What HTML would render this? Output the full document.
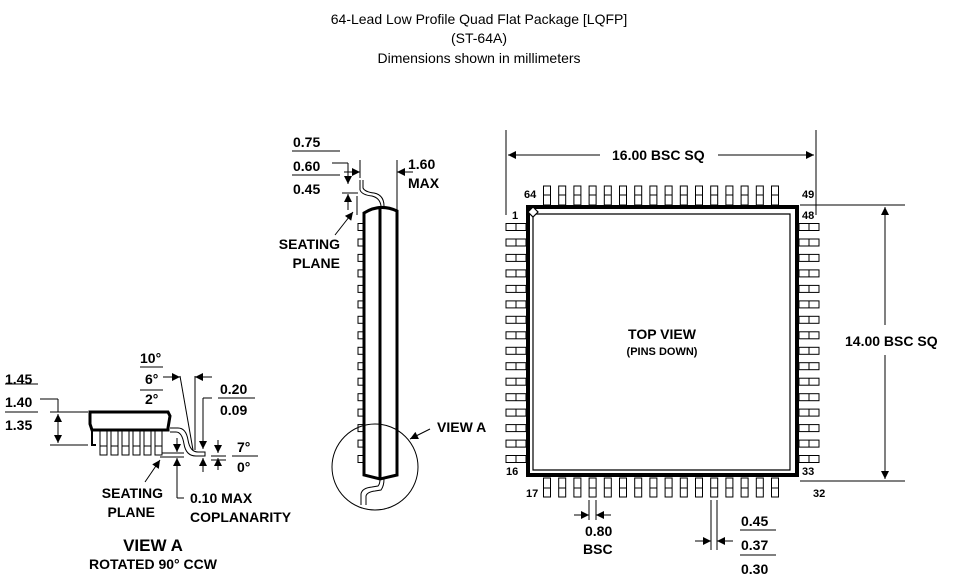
<!DOCTYPE html>
<html><head><meta charset="utf-8"><style>
html,body{margin:0;padding:0;background:#fff;}
svg{display:block;font-family:"Liberation Sans",Arial,sans-serif;}
text{fill:#000;}
.t{font-size:14px;font-weight:bold;}
</style></head><body>
<svg width="959" height="585" viewBox="0 0 959 585" xmlns="http://www.w3.org/2000/svg" xmlns:xlink="http://www.w3.org/1999/xlink">
<defs>
<marker id="a" viewBox="0 0 10 10" refX="10" refY="5" markerWidth="10" markerHeight="8" orient="auto-start-reverse" markerUnits="userSpaceOnUse"><path d="M0,0 L10,5 L0,10 z" fill="#000"/></marker>
<g id="tp" stroke="#000" fill="none"><rect x="-3.5" y="186" width="7" height="19"/><line x1="-3.5" y1="195" x2="3.5" y2="195"/></g>
<g id="bp" stroke="#000" fill="none"><rect x="-3.5" y="478" width="7" height="19"/><line x1="-3.5" y1="488" x2="3.5" y2="488"/></g>
<g id="lp" stroke="#000" fill="none"><rect x="506" y="-3.5" width="20" height="7"/><line x1="516" y1="-3.5" x2="516" y2="3.5"/></g>
<g id="rp" stroke="#000" fill="none"><rect x="799" y="-3.5" width="20" height="7"/><line x1="809" y1="-3.5" x2="809" y2="3.5"/></g>
<g id="sp" stroke="#000" fill="none"><rect x="358" y="-3.5" width="6" height="7"/></g>
<g id="vp" stroke="#000" fill="#fff"><rect x="0" y="431" width="7" height="24"/><line x1="0" y1="446" x2="7" y2="446"/></g>
</defs>
<g font-size="14" text-anchor="middle">
<text x="479" y="24">64-Lead Low Profile Quad Flat Package [LQFP]</text>
<text x="479" y="43">(ST-64A)</text>
<text x="479" y="63">Dimensions shown in millimeters</text>
</g>
<g>
<use xlink:href="#tp" x="547"/><use xlink:href="#tp" x="562.2"/><use xlink:href="#tp" x="577.4"/><use xlink:href="#tp" x="592.6"/><use xlink:href="#tp" x="607.8"/><use xlink:href="#tp" x="623"/><use xlink:href="#tp" x="638.2"/><use xlink:href="#tp" x="653.4"/><use xlink:href="#tp" x="668.6"/><use xlink:href="#tp" x="683.8"/><use xlink:href="#tp" x="699"/><use xlink:href="#tp" x="714.2"/><use xlink:href="#tp" x="729.4"/><use xlink:href="#tp" x="744.6"/><use xlink:href="#tp" x="759.8"/><use xlink:href="#tp" x="775"/>
<use xlink:href="#bp" x="547"/><use xlink:href="#bp" x="562.2"/><use xlink:href="#bp" x="577.4"/><use xlink:href="#bp" x="592.6"/><use xlink:href="#bp" x="607.8"/><use xlink:href="#bp" x="623"/><use xlink:href="#bp" x="638.2"/><use xlink:href="#bp" x="653.4"/><use xlink:href="#bp" x="668.6"/><use xlink:href="#bp" x="683.8"/><use xlink:href="#bp" x="699"/><use xlink:href="#bp" x="714.2"/><use xlink:href="#bp" x="729.4"/><use xlink:href="#bp" x="744.6"/><use xlink:href="#bp" x="759.8"/><use xlink:href="#bp" x="775"/>
<use xlink:href="#lp" y="227"/><use xlink:href="#lp" y="242.5"/><use xlink:href="#lp" y="257.9"/><use xlink:href="#lp" y="273.4"/><use xlink:href="#lp" y="288.9"/><use xlink:href="#lp" y="304.4"/><use xlink:href="#lp" y="319.8"/><use xlink:href="#lp" y="335.3"/><use xlink:href="#lp" y="350.8"/><use xlink:href="#lp" y="366.2"/><use xlink:href="#lp" y="381.7"/><use xlink:href="#lp" y="397.2"/><use xlink:href="#lp" y="412.6"/><use xlink:href="#lp" y="428.1"/><use xlink:href="#lp" y="443.6"/><use xlink:href="#lp" y="459"/>
<use xlink:href="#rp" y="227"/><use xlink:href="#rp" y="242.5"/><use xlink:href="#rp" y="257.9"/><use xlink:href="#rp" y="273.4"/><use xlink:href="#rp" y="288.9"/><use xlink:href="#rp" y="304.4"/><use xlink:href="#rp" y="319.8"/><use xlink:href="#rp" y="335.3"/><use xlink:href="#rp" y="350.8"/><use xlink:href="#rp" y="366.2"/><use xlink:href="#rp" y="381.7"/><use xlink:href="#rp" y="397.2"/><use xlink:href="#rp" y="412.6"/><use xlink:href="#rp" y="428.1"/><use xlink:href="#rp" y="443.6"/><use xlink:href="#rp" y="459"/>
<use xlink:href="#sp" y="227"/><use xlink:href="#sp" y="242.5"/><use xlink:href="#sp" y="257.9"/><use xlink:href="#sp" y="273.4"/><use xlink:href="#sp" y="288.9"/><use xlink:href="#sp" y="304.4"/><use xlink:href="#sp" y="319.8"/><use xlink:href="#sp" y="335.3"/><use xlink:href="#sp" y="350.8"/><use xlink:href="#sp" y="366.2"/><use xlink:href="#sp" y="381.7"/><use xlink:href="#sp" y="397.2"/><use xlink:href="#sp" y="412.6"/><use xlink:href="#sp" y="428.1"/><use xlink:href="#sp" y="443.6"/><use xlink:href="#sp" y="459"/>
</g>
<g stroke="#000" fill="none" stroke-width="1">
<!-- top view -->
<line x1="506" y1="130" x2="506" y2="215"/>
<line x1="816" y1="130" x2="816" y2="215"/>
<line x1="508" y1="155" x2="600" y2="155" marker-start="url(#a)"/>
<line x1="718" y1="155" x2="814" y2="155" marker-end="url(#a)"/>
<line x1="800" y1="205" x2="905" y2="205"/>
<line x1="800" y1="481" x2="905" y2="481"/>
<line x1="885" y1="207" x2="885" y2="325" marker-start="url(#a)"/>
<line x1="885" y1="355" x2="885" y2="479" marker-end="url(#a)"/>
<rect x="528" y="207" width="269" height="268" stroke-width="4"/>
<polyline points="533,214 790,214 790,470 533,470 533,214" stroke-width="1.2"/>
<path d="M528,212 L533,207 L538,212 L533,217 z" fill="#fff" stroke-width="1.2"/>
<!-- pitch dims -->
<line x1="589" y1="500" x2="589" y2="520"/><line x1="596" y1="500" x2="596" y2="520"/>
<line x1="574" y1="515" x2="589" y2="515" marker-end="url(#a)"/>
<line x1="611" y1="515" x2="596" y2="515" marker-end="url(#a)"/>
<line x1="711" y1="500" x2="711" y2="550"/><line x1="717" y1="500" x2="717" y2="550"/>
<line x1="695" y1="541" x2="711" y2="541" marker-end="url(#a)"/>
<line x1="733" y1="541" x2="717" y2="541" marker-end="url(#a)"/>
<line x1="740" y1="530" x2="776" y2="530"/><line x1="740" y1="555" x2="776" y2="555"/>
<!-- side view -->
<path d="M364,475 L364,213 Q380,203 397,211 L397,475 L380,479 z" stroke-width="3"/>
<line x1="380" y1="206" x2="380" y2="478" stroke-width="3"/>
<line x1="397" y1="160" x2="397" y2="212"/>
<line x1="360" y1="160" x2="360" y2="178"/>
<line x1="344" y1="172" x2="360" y2="172" marker-end="url(#a)"/>
<line x1="413" y1="172" x2="397" y2="172" marker-end="url(#a)"/>
<path d="M360,180 L360,190 Q362,195 372,196 Q380,198 381,206"/>
<path d="M363,180 L363,188 Q365,192 374,193 Q384,195 384,206"/>
<line x1="332" y1="163" x2="348" y2="163"/>
<line x1="348" y1="163" x2="348" y2="184" marker-end="url(#a)"/>
<line x1="348" y1="210" x2="348" y2="194" marker-end="url(#a)"/>
<line x1="342" y1="193" x2="358" y2="193"/>
<line x1="292" y1="151" x2="340" y2="151"/><line x1="292" y1="175" x2="340" y2="175"/>
<line x1="357" y1="196" x2="357" y2="215"/>
<line x1="335" y1="235" x2="353" y2="212" marker-end="url(#a)"/>
<circle cx="375" cy="467" r="43"/>
<line x1="430" y1="429" x2="410" y2="439" marker-end="url(#a)"/>
<path d="M361,505 L361,494 Q362,488 372,487 L378,486 Q380,484 380,479"/>
<path d="M366,505 L366,496 Q367,492 375,491 L381,490 Q384,486 384,479"/>
<!-- view A -->
<path d="M90,412 L168,412 L170,416 L168,428 L168,430 L92,430 L90,424 L90,416 z" stroke-width="3"/>
<path d="M92,430 L92,445 L96,445" stroke-width="2"/>
<line x1="5" y1="384" x2="38" y2="384"/><line x1="5" y1="412" x2="38" y2="412"/>
<line x1="40" y1="399" x2="58" y2="399"/><line x1="58" y1="399" x2="58" y2="412"/>
<line x1="50" y1="412" x2="88" y2="412"/><line x1="50" y1="445" x2="88" y2="445"/>
<line x1="58" y1="414" x2="58" y2="443" marker-start="url(#a)" marker-end="url(#a)"/>
<path d="M170,428 L178,428 Q186,428 188,440 Q190,452 198,452 L205,452 L205,456 L196,456 Q186,456 184,444 Q182,432 176,432 L170,432"/>
<line x1="180" y1="376" x2="193" y2="450"/>
<line x1="195" y1="376" x2="195" y2="450"/>
<line x1="163" y1="377" x2="180" y2="377" marker-end="url(#a)"/>
<line x1="212" y1="377" x2="195" y2="377" marker-end="url(#a)"/>
<line x1="140" y1="367" x2="163" y2="367"/><line x1="140" y1="390" x2="163" y2="390"/>
<line x1="203" y1="398" x2="212" y2="398"/><line x1="203" y1="398" x2="203" y2="449" marker-end="url(#a)"/>
<line x1="203" y1="472" x2="203" y2="458" marker-end="url(#a)"/>
<line x1="218" y1="440" x2="218" y2="453" marker-end="url(#a)"/>
<line x1="218" y1="470" x2="218" y2="458" marker-end="url(#a)"/>
<line x1="211" y1="456" x2="226" y2="456"/><line x1="211" y1="460" x2="226" y2="460"/>
<line x1="218" y1="398" x2="255" y2="398"/>
<line x1="232" y1="456" x2="258" y2="456"/>
<line x1="155" y1="453" x2="184" y2="453"/><line x1="160" y1="457" x2="184" y2="457"/>
<line x1="177" y1="438" x2="177" y2="452" marker-end="url(#a)"/>
<line x1="177" y1="480" x2="177" y2="458" marker-end="url(#a)"/>
<line x1="177" y1="480" x2="177" y2="498"/><line x1="177" y1="498" x2="184" y2="498"/>
<line x1="145" y1="482" x2="160" y2="460" marker-end="url(#a)"/>
</g>
<g>
<use xlink:href="#vp" x="100"/><use xlink:href="#vp" x="111"/><use xlink:href="#vp" x="122"/><use xlink:href="#vp" x="133"/><use xlink:href="#vp" x="144"/><use xlink:href="#vp" x="155"/>
</g>
<g class="t">
<text x="612" y="160">16.00 BSC SQ</text>
<text x="845" y="346">14.00 BSC SQ</text>
<text x="662" y="339" text-anchor="middle">TOP VIEW</text>
<text x="662" y="355" text-anchor="middle" font-size="11">(PINS DOWN)</text>
<text x="585" y="536">0.80</text><text x="583" y="554">BSC</text>
<text x="741" y="526">0.45</text><text x="741" y="550">0.37</text><text x="741" y="574">0.30</text>
<text x="293" y="147">0.75</text><text x="293" y="171">0.60</text><text x="293" y="194">0.45</text>
<text x="408" y="169">1.60</text><text x="408" y="188">MAX</text>
<text x="340" y="249" text-anchor="end">SEATING</text><text x="340" y="268" text-anchor="end">PLANE</text>
<text x="437" y="432">VIEW A</text>
<text x="5" y="384">1.45</text><text x="5" y="407">1.40</text><text x="5" y="430">1.35</text>
<text x="140" y="363">10°</text><text x="145" y="384">6°</text><text x="145" y="404">2°</text>
<text x="220" y="394">0.20</text><text x="220" y="415">0.09</text>
<text x="237" y="452">7°</text><text x="237" y="472">0°</text>
<text x="163" y="498" text-anchor="end">SEATING</text><text x="155" y="517" text-anchor="end">PLANE</text>
<text x="190" y="503">0.10 MAX</text><text x="190" y="522">COPLANARITY</text>
<text x="153" y="551" text-anchor="middle" font-size="17">VIEW A</text>
<text x="153" y="569" text-anchor="middle">ROTATED 90° CCW</text>
</g>
<g font-size="11" font-weight="bold">
<text x="524" y="198">64</text><text x="802" y="198">49</text>
<text x="512" y="219">1</text><text x="802" y="219">48</text>
<text x="506" y="475">16</text><text x="802" y="475">33</text>
<text x="526" y="497">17</text><text x="813" y="497">32</text>
</g>
</svg>
</body></html>
